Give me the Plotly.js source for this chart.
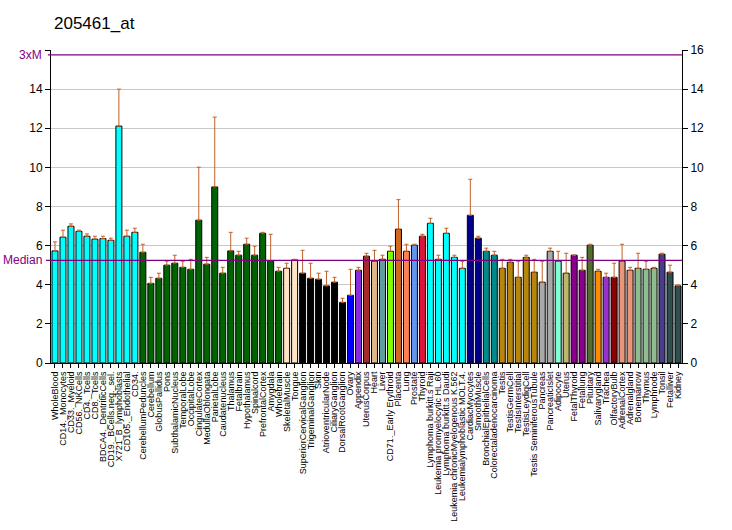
<!DOCTYPE html>
<html>
<head>
<meta charset="utf-8">
<script src="https://cdn.plot.ly/plotly-3.0.1.min.js"></script>
<style>html,body{margin:0;padding:0;background:#fff;}#chart{width:732px;height:530px;}</style>
</head>
<body>
<div id="chart"></div>
<script>
const labels = ["WholeBlood","CD14._Monocytes","CD33._Myeloid","CD56._NKCells","CD4._Tcells","CD8._Tcells","BDCA4._DentriticCells","CD19._BCells.neg._sel.","X721_B_lymphoblasts","CD105._Endothelial","CD34.",
"CerebellumPeduncles","Cerebellum","GlobusPallidus","Pons","SubthalamicNucleus","TemporalLobe","OccipitalLobe","CingulateCortex","MedullaOblongata","ParietalLobe","Caudatenucleus","Thalamus","Fetalbrain","Hypothalamus","Spinalcord","PrefrontalCortex","Amygdala","Wholebrain",
"SkeletalMuscle","Tongue","SuperiorCervicalGanglion","TrigeminalGanglion","Skin","AtrioventricularNode","CiliaryGanglion","DorsalRootGanglion","Ovary","Appendix","UterusCorpus","Heart","Liver","CD71._Early Erythroid","Placenta","Lung","Prostate","Thyroid",
"Lymphoma burkitt.s Raji","Leukemia promyelocytic HL.60","Lymphoma burkitt.s Daudi","Leukemia chronicMyelogenous K.562","Leukemialymphoblastic MOLT.4.","CardiacMyocytes","SmoothMuscle","BronchialEpithelialCells","Colorectaladenocarcinoma","Testis","TestisGermCell","TestisInterstitial","TestisLeydigCell","Testis SeminiferousTubule","Pancreas","PancreaticIslet","Adipocyte","Uterus","FetalThyroid","Fetallung","Pituitary","Salivarygland","Trachea","OlfactoryBulb","AdrenalCortex","Adrenalgland","Bonemarrow","Thymus","Lymphnode","Tonsil","Fetalliver","Kidney"];

const values = [5.73,6.43,6.99,6.73,6.48,6.33,6.36,6.27,12.11,6.48,6.68,
5.66,4.07,4.33,5.00,5.10,4.89,4.79,7.30,5.05,9.00,4.59,5.73,5.51,6.07,5.51,6.63,5.23,4.69,
4.84,5.27,4.59,4.33,4.28,3.94,4.13,3.10,3.46,4.74,5.46,5.20,5.30,5.71,6.84,5.71,6.02,6.48,
7.14,5.30,6.63,5.40,4.84,7.55,6.38,5.71,5.51,4.84,5.15,4.38,5.40,4.64,4.13,5.71,5.20,4.59,5.51,4.74,6.02,4.69,4.38,4.38,5.20,4.74,4.84,4.79,4.84,5.56,4.64,3.94];

const errorTops = [6.19,6.79,7.11,6.79,6.60,6.48,6.48,6.38,14.0,6.79,6.89,
6.07,4.38,4.59,5.20,5.51,5.20,5.30,10.01,5.40,12.57,4.89,6.68,5.71,6.38,5.97,6.68,6.58,4.89,
5.10,5.30,5.76,5.10,4.59,4.69,4.38,3.31,4.79,4.89,5.61,5.76,5.51,5.97,8.35,6.07,6.07,6.58,
7.40,5.51,6.89,5.51,5.20,9.39,6.48,5.87,5.71,5.30,5.30,5.20,5.51,5.30,5.20,5.87,5.71,5.61,5.51,5.40,6.07,4.79,4.59,5.10,6.07,4.89,5.61,5.20,4.89,5.61,5.00,3.99];

const barColors = [
"#00FFFF","#00FFFF","#00FFFF","#00FFFF","#00FFFF","#00FFFF","#00FFFF","#00FFFF","#00FFFF","#00FFFF","#00FFFF",
"#006400","#006400","#006400","#006400","#006400","#006400","#006400","#006400","#006400","#006400","#006400","#006400","#006400","#006400","#006400","#006400","#006400","#006400",
"#FFE4C4","#FFE4C4","#000000","#000000","#000000","#000000","#000000","#000000","#0000FF","#8A2BE2","#A52A2A","#DEB887","#5F9EA0","#7FFF00","#D2691E","#FF7F50","#6495ED","#DC143C",
"#00FFFF","#00FFFF","#00FFFF","#00FFFF","#00FFFF","#00008B","#00008B","#008B8B","#008B8B","#B8860B","#B8860B","#B8860B","#B8860B","#B8860B","#A9A9A9","#A9A9A9","#7FFFD4","#BDB76B","#8B008B","#8B008B","#556B2F","#FF8C00","#9932CC","#8B0000","#E9967A","#E9967A","#8FBC8F","#8FBC8F","#8FBC8F","#483D8B","#2F4F4F","#2F4F4F"];

const medianValue = 5.25;
const yTicks = [0,2,4,6,8,10,12,14,16];
const yTickText = ["0","2","4","6","8","10","12","14",""];
const y2TickText = ["0","2","4","6","8","10","12","14","16"];

const idx = labels.map((_, i) => i);
const errPlus = values.map((v, i) => Math.max(0, errorTops[i] - v));
const errMinus = values.map(() => 0);

const trace = {
  type: 'bar',
  x: idx,
  y: values,
  width: 0.75,
  marker: {color: barColors, line: {color: '#000000', width: 1}},
  error_y: {type: 'data', symmetric: false, array: errPlus, arrayminus: errMinus, color: '#C0602A', thickness: 1, width: 2},
  hoverinfo: 'none',
  showlegend: false
};
const trace2 = {type: 'scatter', x: [0], y: [0], yaxis: 'y2', mode: 'markers', marker: {opacity: 0}, showlegend: false, hoverinfo: 'none'};

const font = 'Liberation Sans, Arial, sans-serif';
const layout = {
  width: 732, height: 530,
  margin: {l: 51, r: 50, t: 50, b: 167},
  paper_bgcolor: '#ffffff', plot_bgcolor: '#ffffff',
  font: {family: font, size: 12, color: '#000000'},
  title: {text: '205461_at', x: 54/732, xanchor: 'left', y: 1 - 23/530, yanchor: 'middle', font: {family: font, size: 17, color: '#000000'}},
  bargap: 0,
  xaxis: {
    range: [-0.5, labels.length - 0.5], tickmode: 'array', tickvals: idx, ticktext: labels,
    tickangle: -90, tickfont: {family: font, size: 9, color: '#000000'},
    ticks: 'outside', ticklen: 4, tickcolor: '#000000', showline: true, linecolor: '#000000', linewidth: 1,
    showgrid: false, zeroline: false, fixedrange: true, automargin: false
  },
  yaxis: {
    range: [0, 16], tickmode: 'array', tickvals: yTicks, ticktext: yTickText,
    ticks: 'outside', ticklen: 5, tickcolor: '#000000', showline: true, linecolor: '#000000', linewidth: 1,
    showgrid: true, gridcolor: '#C8C8C8', gridwidth: 1, zeroline: false, tickfont: {family: font, size: 12}
  },
  yaxis2: {
    range: [0, 16], overlaying: 'y', side: 'right', tickmode: 'array', tickvals: yTicks, ticktext: y2TickText,
    ticks: 'outside', ticklen: 5, tickcolor: '#000000', showline: true, linecolor: '#000000', linewidth: 1,
    showgrid: false, zeroline: false, tickfont: {family: font, size: 12}
  },
  shapes: [
    {type: 'line', xref: 'paper', yref: 'y', x0: -0.008, x1: 1, y0: medianValue, y1: medianValue, line: {color: '#800080', width: 1.3}},
    {type: 'line', xref: 'paper', yref: 'y', x0: -0.005, x1: 1, y0: 3 * medianValue, y1: 3 * medianValue, line: {color: '#800080', width: 1.3}}
  ],
  annotations: [
    {text: 'Median', xref: 'paper', yref: 'y', x: 0, y: medianValue, xanchor: 'right', yanchor: 'middle', xshift: -7, showarrow: false, font: {family: font, size: 12, color: '#800080'}},
    {text: '3xM', xref: 'paper', yref: 'y', x: 0, y: 3 * medianValue, xanchor: 'right', yanchor: 'middle', xshift: -7, showarrow: false, font: {family: font, size: 12, color: '#800080'}}
  ]
};
Plotly.newPlot('chart', [trace, trace2], layout, {staticPlot: true, displayModeBar: false});
</script>
</body>
</html>
